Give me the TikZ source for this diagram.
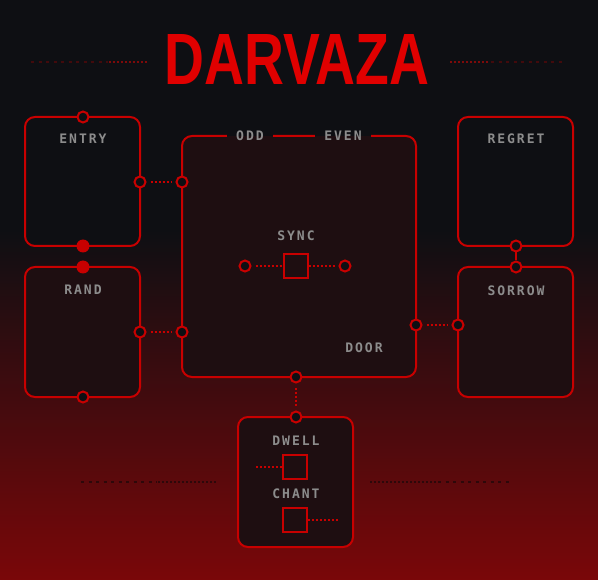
\documentclass[tikz,border=0pt]{standalone}
\usepackage{fontspec}
\usepackage{xcolor}
\usepackage{tikz}
\usetikzlibrary{positioning}
\newfontfamily\pixfont{DejaVu Sans Mono}[LetterSpace=15]
\newfontfamily\titlefont{Liberation Sans}
\definecolor{bgdark}{RGB}{14,15,19}
\definecolor{bgred}{RGB}{122,7,9}
\definecolor{wirered}{RGB}{200,0,0}
\definecolor{titlered}{RGB}{224,0,0}
\definecolor{boxfill}{RGB}{30,14,17}
\definecolor{labelgray}{RGB}{140,140,140}
\definecolor{decodim}{RGB}{66,10,12}
\definecolor{decolit}{RGB}{125,10,10}
\definecolor{decolow}{RGB}{45,8,10}

\begin{document}
\begin{tikzpicture}[x=0.75pt,y=0.75pt,yscale=-1,xscale=1,
    wire/.style={draw=wirered,line width=1.5pt},
    card/.style={wire,fill=boxfill,rounded corners=7.5pt,minimum width=86.25pt,minimum height=97.5pt,inner sep=0pt},
    port/.style={circle,draw=wirered,line width=1.5pt,fill=bgdark,minimum size=8.25pt,inner sep=0pt},
    plug/.style={circle,fill=wirered,minimum size=9.75pt,inner sep=0pt},
    slot/.style={wire,fill=boxfill,minimum size=18pt,inner sep=0pt},
    lbl/.style={text=labelgray,font=\pixfont\bfseries\fontsize{9.8pt}{9.8pt}\selectfont,inner sep=0pt},
    gaplabel/.style={lbl,fill=boxfill,inner xsep=7pt,inner ysep=3pt,
        path picture={\fill[bgdark] (path picture bounding box.north west) rectangle (path picture bounding box.east);
                      \fill[boxfill] (path picture bounding box.west) rectangle (path picture bounding box.south east);}},
    dotwire/.style={draw=wirered,line width=1.5pt,dash pattern=on 1.5pt off 1.5pt,shorten <=3pt,shorten >=3pt},
    decodash/.style={line width=1.5pt,dash pattern=on 2.25pt off 3.4pt},
    decodot/.style={line width=1.5pt,dash pattern=on 1.5pt off 1.5pt}]
\useasboundingbox (0,0) rectangle (598,580);

%Background
        \fill [bgdark] (0,0) rectangle (598,231) ;
        \shade [top color=bgdark, bottom color=bgred] (0,230) rectangle (598,580) ;

%Title and its rules
        \node [text=titlered,inner sep=0pt] (title) at (297,60) {\resizebox{198.75pt}{37.5pt}{\titlefont\bfseries DARVAZA}};
        \draw [decodash,decodim] (31,62) -- (108,62) ;
        \draw [decodot,decolit] (109,62) -- (147,62) ;
        \draw [decodot,decolit] (450,62) -- (490,62) ;
        \draw [decodash,decodim] (491,62) -- (564,62) ;
        \draw [decodash,decolow] (81,482) -- (157,482) ;
        \draw [decodot,decolow] (158,482) -- (217,482) ;
        \draw [decodot,decolow] (370,482) -- (437,482) ;
        \draw [decodash,decolow] (438,482) -- (513,482) ;

%Cards
        \node [card,fill=bgdark,minimum height=96.75pt] (entry) at (82.5,181.5) {};
        \node [card] (rand) at (82.5,332) {};
        \node [card,minimum width=175.5pt,minimum height=180.75pt] (core) at (299,256.5) {};
        \node [card,fill=bgdark,minimum height=96.75pt] (regret) at (515.5,181.5) {};
        \node [card] (sorrow) at (515.5,332) {};
        \node [card] (dwellbox) at (295.5,482) {};

% Text Node
        \node [lbl] (entrylbl) at (83,139) {ENTRY};
        \node [lbl] (randlbl) at (83,290) {RAND};
        \node [lbl] (regretlbl) at (516,139) {REGRET};
        \node [lbl] (sorrowlbl) at (516,291) {SORROW};
        \node [gaplabel] (oddlbl) at (250,136) {ODD};
        \node [gaplabel] (evenlbl) at (343,136) {EVEN};
        \node [lbl] (synclbl) at (296,236) {SYNC};
        \node [lbl] (doorlbl) at (364,348) {DOOR};
        \node [lbl] (dwelllbl) at (296,441) {DWELL};
        \node [lbl] (chantlbl) at (296,494) {CHANT};

%Ports
        \node [port] (entryT) at (83,117) {};
        \node [plug] (entryB) at (83,246) {};
        \node [port] (entryR) at (140,182) {};
        \node [plug] (randT) at (83,267) {};
        \node [port] (randB) at (83,397) {};
        \node [port] (randR) at (140,332) {};
        \node [port] (coreL1) at (182,182) {};
        \node [port] (coreL2) at (182,332) {};
        \node [port] (coreR) at (416,325) {};
        \node [port] (coreB) at (296,377) {};
        \node [port] (regretB) at (516,246) {};
        \node [port] (sorrowT) at (516,267) {};
        \node [port] (sorrowL) at (458,325) {};
        \node [port] (dwellT) at (296,417) {};
        \node [port] (syncL) at (245,266) {};
        \node [port] (syncR) at (345,266) {};

%Slots
        \node [slot] (sync) at (296,266) {};
        \node [slot] (dwell) at (295,467) {};
        \node [slot] (chant) at (295,520) {};
        \coordinate (dwellin) at (256,467);
        \coordinate (chantout) at (338,520);

% Connection
        \draw [dotwire] (entryR) -- (coreL1) ;
        \draw [dotwire] (randR) -- (coreL2) ;
        \draw [dotwire] (coreR) -- (sorrowL) ;
        \draw [dotwire] (coreB) -- (dwellT) ;
        \draw [wire] (regretB) -- (sorrowT) ;
        \draw [dotwire,shorten >=0pt] (syncL) -- (sync) ;
        \draw [dotwire,shorten <=0pt] (sync) -- (syncR) ;
        \draw [dotwire,shorten <=0pt,shorten >=0pt] (dwellin) -- (dwell) ;
        \draw [dotwire,shorten <=0pt,shorten >=0pt] (chant) -- (chantout) ;

\end{tikzpicture}
\end{document}
